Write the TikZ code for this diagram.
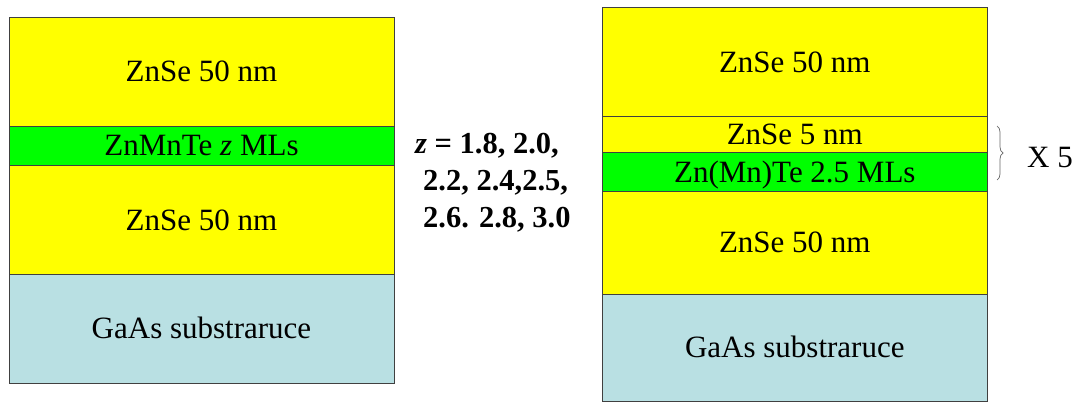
\documentclass[tikz,border=0pt]{standalone}
\usepackage{fontspec}
\setmainfont{Liberation Serif}
\usetikzlibrary{decorations.pathreplacing}
\definecolor{zyellow}{HTML}{FFFF00}
\definecolor{zgreen}{HTML}{00FF00}
\definecolor{zsub}{HTML}{B9E0E3}
\definecolor{zline}{HTML}{404040}
\begin{document}
\begin{tikzpicture}[x=1pt,y=-1pt,
  layer/.style={draw=zline, line width=0.7pt, rectangle, inner sep=0pt,
    font=\fontsize{31}{36}\selectfont\rmfamily, text height=20.5pt, text depth=0pt},
  lab/.style={font=\fontsize{30.5}{36}\selectfont\rmfamily\bfseries, inner sep=0pt, anchor=west, text height=20.5pt, text depth=0pt},
  note/.style={font=\fontsize{31}{36}\selectfont\rmfamily, inner sep=0pt, anchor=west, text height=20.5pt, text depth=0pt}]
\useasboundingbox (0,0) rectangle (1081,402);
% left stack
\node[layer, fill=zyellow, minimum width=385pt, minimum height=108.7pt] (a1) at (201.5,71.6) {ZnSe 50 nm};
\node[layer, fill=zgreen, minimum width=385pt, minimum height=39.3pt] (a2) at (201.5,145.6) {ZnMnTe \textit{z} MLs};
\node[layer, fill=zyellow, minimum width=385pt, minimum height=109pt] (a3) at (201.5,219.8) {ZnSe 50 nm};
\node[layer, fill=zsub, minimum width=385pt, minimum height=108.7pt] (a4) at (201.5,328.7) {GaAs substraruce};
% middle text
\node[lab] (t1) at (415,143) {\textit{z} = 1.8, 2.0,};
\node[lab] (t2) at (423,180) {2.2, 2.4,2.5,};
\node[lab] (t3) at (423,217) {2.6. 2.8, 3.0};
% right stack
\node[layer, fill=zyellow, minimum width=385pt, minimum height=109.4pt] (b1) at (794.8,62) {ZnSe 50 nm};
\node[layer, fill=zyellow, minimum width=385pt, minimum height=36pt] (b2) at (794.8,134.7) {ZnSe 5 nm};
\node[layer, fill=zgreen, minimum width=385pt, minimum height=38.3pt] (b3) at (794.8,171.8) {Zn(Mn)Te 2.5 MLs};
\node[layer, fill=zyellow, minimum width=385pt, minimum height=103.3pt] (b4) at (794.8,242.6) {ZnSe 50 nm};
\node[layer, fill=zsub, minimum width=385pt, minimum height=106.7pt] (b5) at (794.8,347.6) {GaAs substraruce};
% brace
\coordinate (br1) at (997,126);
\coordinate (br2) at (997,180);
\draw[zline!80, line width=0.7pt, decorate, decoration={brace, amplitude=6pt}] (br1) -- (br2);
\node[note] (x5) at (1027,157) {X 5};
\end{tikzpicture}
\end{document}
